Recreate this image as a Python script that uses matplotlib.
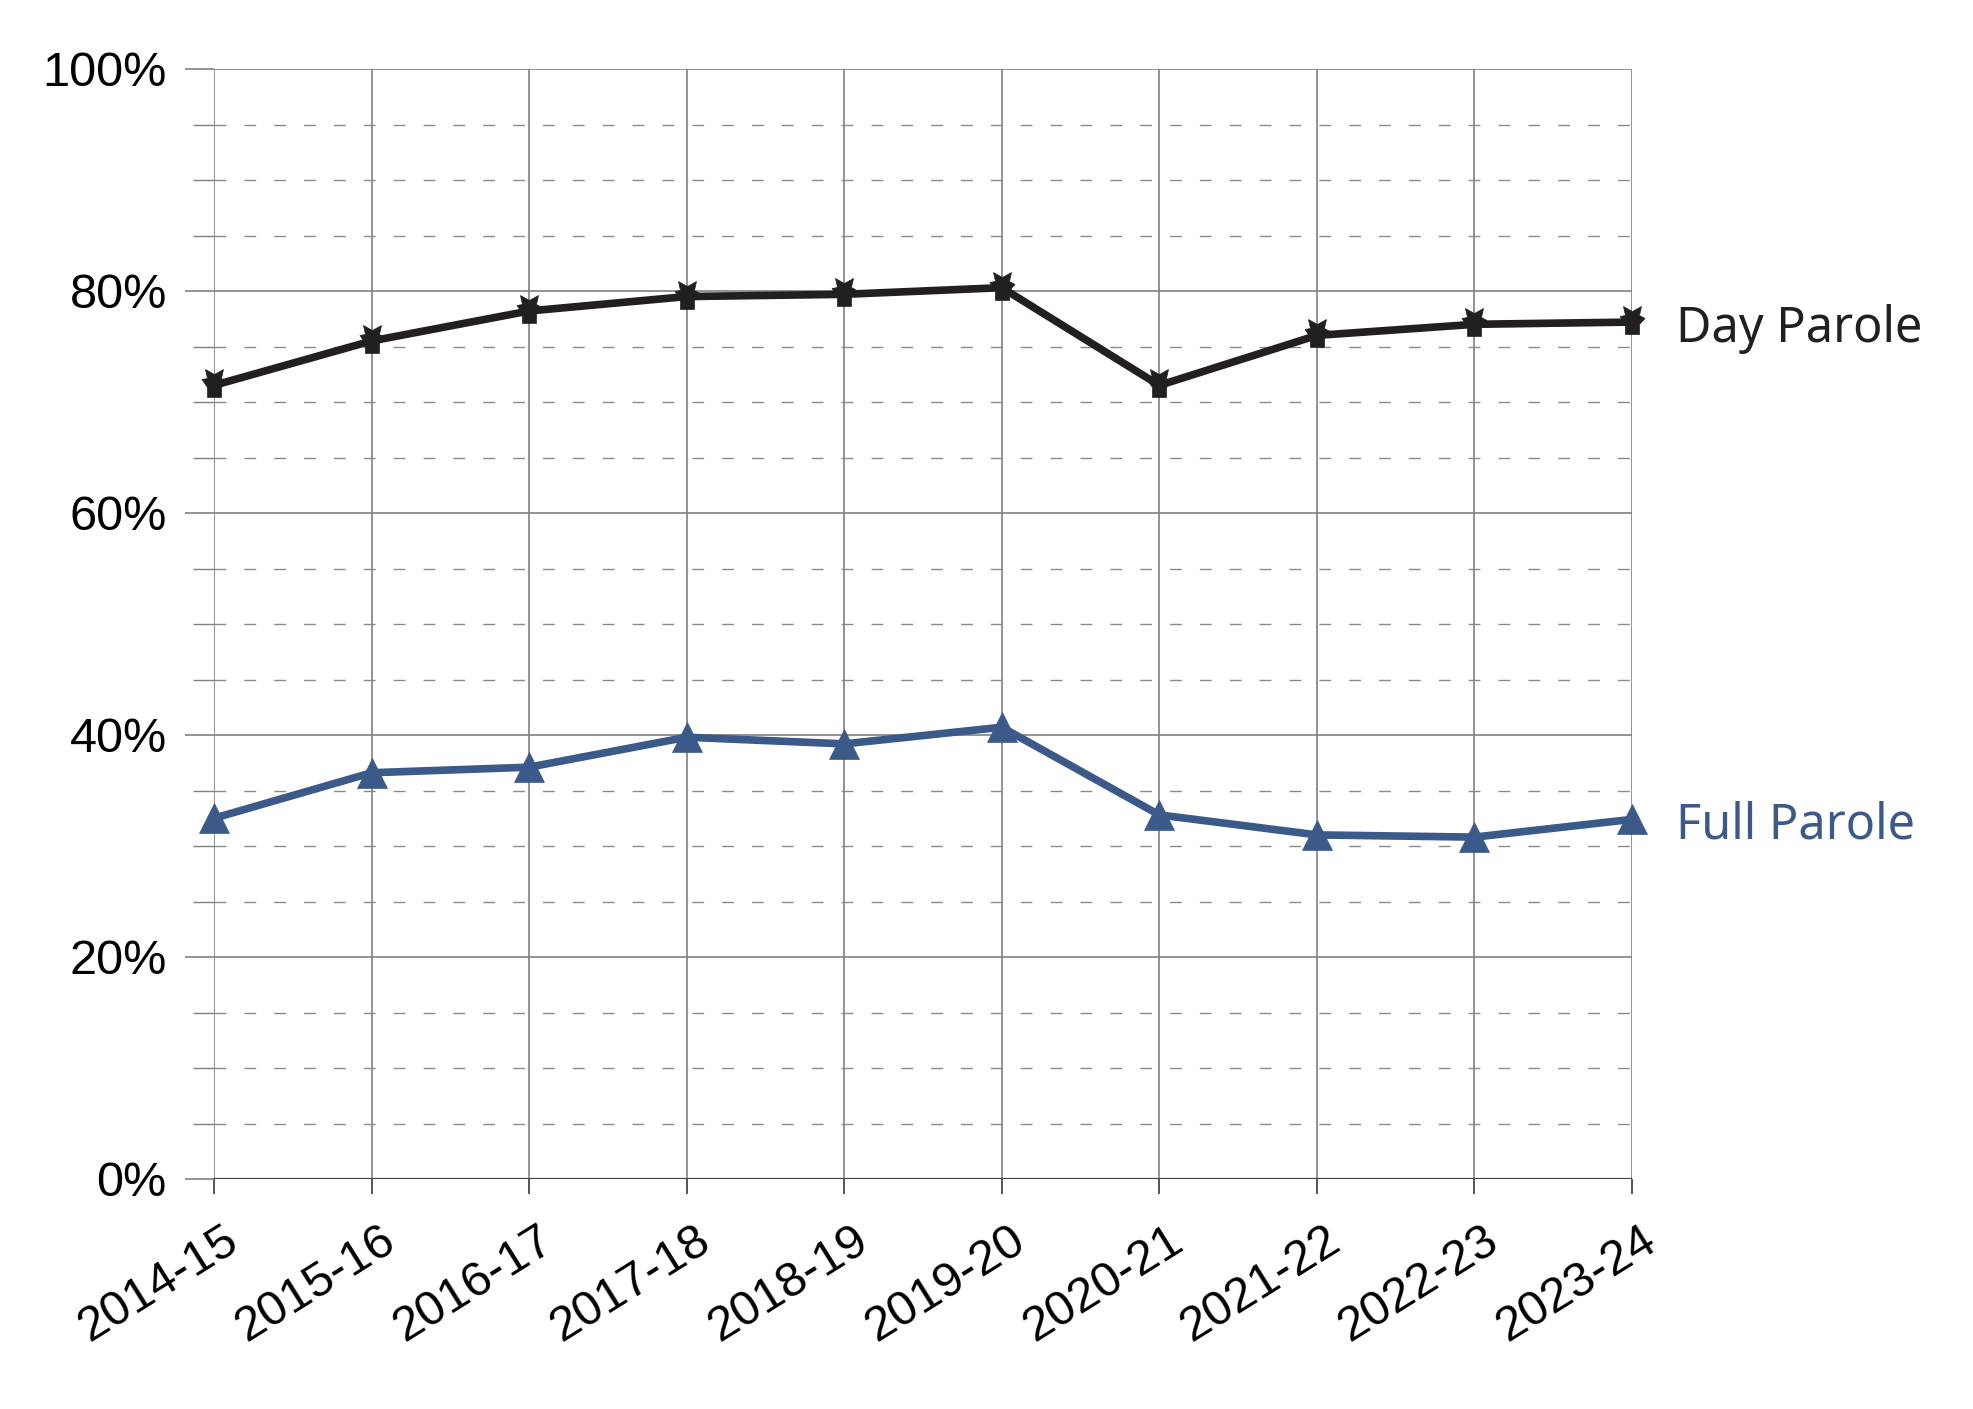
import matplotlib
matplotlib.use("Agg")
import matplotlib.pyplot as plt
import matplotlib.transforms as mtransforms
from matplotlib.path import Path
from matplotlib.ticker import MultipleLocator, FuncFormatter

years = ["2014-15", "2015-16", "2016-17", "2017-18", "2018-19",
         "2019-20", "2020-21", "2021-22", "2022-23", "2023-24"]
day_parole = [71.5, 75.5, 78.2, 79.5, 79.7, 80.3, 71.5, 76.0, 77.0, 77.2]
full_parole = [32.5, 36.6, 37.1, 39.8, 39.2, 40.7, 32.8, 31.0, 30.8, 32.4]

DAY_COLOR = "#231F20"
FULL_COLOR = "#3B5A89"
GRID = "#808080"

fig = plt.figure(figsize=(19.73, 14.09), dpi=100)
ax = fig.add_axes([214/1973, 1 - 1179/1409, (1632-214)/1973, (1179-69)/1409])

x = list(range(len(years)))

star_verts = [(-7, -12), (7, -12), (7, -2), (12.5, 4), (7, 7), (9, 16), (0, 11),
              (-9, 16), (-7, 7), (-12.5, 6), (-7, -2), (-7, -12)]
star_codes = [Path.MOVETO] + [Path.LINETO] * (len(star_verts) - 2) + [Path.CLOSEPOLY]
star_marker = Path(star_verts, star_codes)

ax.plot(x, day_parole, color=DAY_COLOR, lw=5.5, marker=star_marker, ms=23,
        mec=DAY_COLOR, mfc=DAY_COLOR, mew=0.5, zorder=5, clip_on=False)
ax.plot(x, full_parole, color=FULL_COLOR, lw=5.5, marker="^", ms=21.5,
        mec=FULL_COLOR, mfc=FULL_COLOR, mew=0.5, zorder=5, clip_on=False)

ax.set_xlim(0, len(years) - 1)
ax.set_ylim(0, 100)

ax.yaxis.set_major_locator(MultipleLocator(20))
ax.yaxis.set_minor_locator(MultipleLocator(5))
ax.yaxis.set_major_formatter(FuncFormatter(lambda v, p: f"{int(round(v))}%"))
ax.set_xticks(x)
ax.set_xticklabels(years)

for s in ax.spines.values():
    s.set_visible(False)

ax.grid(True, which="major", axis="both", color=GRID, lw=1.2, zorder=0)
ax.grid(True, which="minor", axis="y", color="#8a8a8a", lw=1.0, ls=(0, (8.5, 13)), zorder=0)
ax.axhline(0, color="#404040", lw=1.6, zorder=1)
ax.set_axisbelow(True)

ax.tick_params(axis="y", which="major", length=21, width=1.2, color=GRID, pad=13,
               labelsize=35)
ax.tick_params(axis="y", which="minor", length=15, width=1.0, color=GRID)
ax.tick_params(axis="x", which="major", length=11, width=1.4, color="#555555", pad=17,
               labelsize=35)
for lab in ax.get_yticklabels() + ax.get_xticklabels():
    lab.set_fontfamily("Liberation Sans")
shift = mtransforms.ScaledTranslation(0.08, 0, fig.dpi_scale_trans)
for lab in ax.get_xticklabels():
    lab.set_rotation(32)
    lab.set_ha("right")
    lab.set_rotation_mode("anchor")
    lab.set_va("top")
    lab.set_transform(lab.get_transform() + shift)

ax.annotate("Day Parole", xy=(x[-1], day_parole[-1]), xytext=(32, -14),
            textcoords="offset points", va="baseline", ha="left",
            fontsize=35, color=DAY_COLOR, family="Noto Sans")
ax.annotate("Full Parole", xy=(x[-1], full_parole[-1]), xytext=(32, -14),
            textcoords="offset points", va="baseline", ha="left",
            fontsize=35, color=FULL_COLOR, family="Noto Sans")

fig.savefig("out.png", dpi=100, facecolor="white")
